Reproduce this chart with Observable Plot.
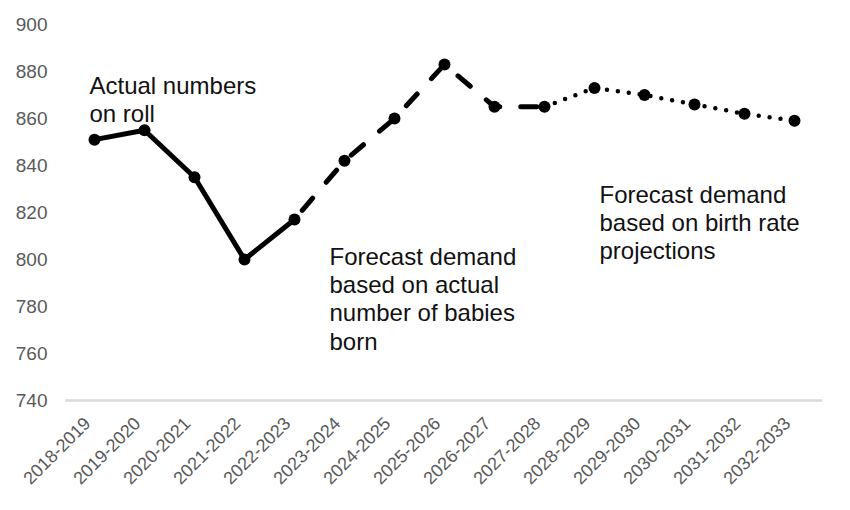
<!DOCTYPE html>
<html>
<head>
<meta charset="utf-8">
<script src="https://cdn.jsdelivr.net/npm/d3@7"></script>
<script src="https://cdn.jsdelivr.net/npm/@observablehq/plot@0.6"></script>
<style>
  html, body { margin: 0; padding: 0; background: #fff; }
  #chart svg { font-family: "Liberation Sans", Arial, sans-serif; }
</style>
</head>
<body>
<div id="chart"></div>
<script>
// ---- Data ----
const years = ["2018-2019","2019-2020","2020-2021","2021-2022","2022-2023","2023-2024","2024-2025","2025-2026","2026-2027","2027-2028","2028-2029","2029-2030","2030-2031","2031-2032","2032-2033"];
const pupils = [851, 855, 835, 800, 817, 842, 860, 883, 865, 865, 873, 870, 866, 862, 859];
const yTicks = [740, 760, 780, 800, 820, 840, 860, 880, 900];
// index ranges of each segment (inclusive)
const actualRange = [0, 4];
const babiesRange = [4, 9];
const birthRateRange = [9, 14];
const annotations = [
  {text: "Actual numbers\non roll", year: "2018-2019", value: 879, dx: -5},
  {text: "Forecast demand\nbased on actual\nnumber of babies\nborn", year: "2023-2024", value: 806, dx: -15},
  {text: "Forecast demand\nbased on birth rate\nprojections", year: "2028-2029", value: 832.5, dx: 5}
];

const rows = years.map((y, i) => ({year: y, value: pupils[i], i}));
const seg = r => rows.filter(d => d.i >= r[0] && d.i <= r[1]);

const chart = Plot.plot({
  width: 850,
  height: 510,
  marginTop: 24,
  marginLeft: 65,
  marginRight: 28,
  marginBottom: 110,
  style: {fontFamily: '"Liberation Sans", Arial, sans-serif', background: "#fff"},
  x: {type: "point", domain: years, padding: 0.5, label: null},
  y: {domain: [740, 900], label: null},
  marks: [
    Plot.ruleY([740], {stroke: "#d9d9d9", strokeWidth: 2.5}),
    Plot.axisY({ticks: yTicks, tickSize: 0, tickPadding: 18, fontSize: 19, fill: "#595959", label: null}),
    Plot.axisX({tickSize: 0, tickPadding: 10, tickRotate: -45, fontSize: 18, dx: -7, dy: 10, fill: "#595959", label: null}),
    Plot.line(seg(actualRange), {x: "year", y: "value", stroke: "#000", strokeWidth: 5, strokeLinejoin: "round"}),
    Plot.line(seg(babiesRange), {x: "year", y: "value", stroke: "#000", strokeWidth: 5, strokeDasharray: "16 21", strokeDashoffset: -12, strokeLinecap: "round"}),
    Plot.line(seg(birthRateRange), {x: "year", y: "value", stroke: "#000", strokeWidth: 4.5, strokeDasharray: "0 11", strokeLinecap: "round"}),
    Plot.dot(rows, {x: "year", y: "value", r: 6, fill: "#000"}),
    Plot.text(annotations, {x: "year", y: "value", text: "text", textAnchor: "start", lineAnchor: "top", lineHeight: 1.17, fontSize: 24, fill: "#111"})
  ]
});
document.getElementById("chart").appendChild(chart);
// apply per-annotation horizontal offsets
d3.select(chart).selectAll("g[aria-label=text] text").each(function(_, k) {
  const t = d3.select(this);
  t.attr("transform", (t.attr("transform") || "") + ` translate(${annotations[k].dx},0)`);
});
</script>
</body>
</html>
